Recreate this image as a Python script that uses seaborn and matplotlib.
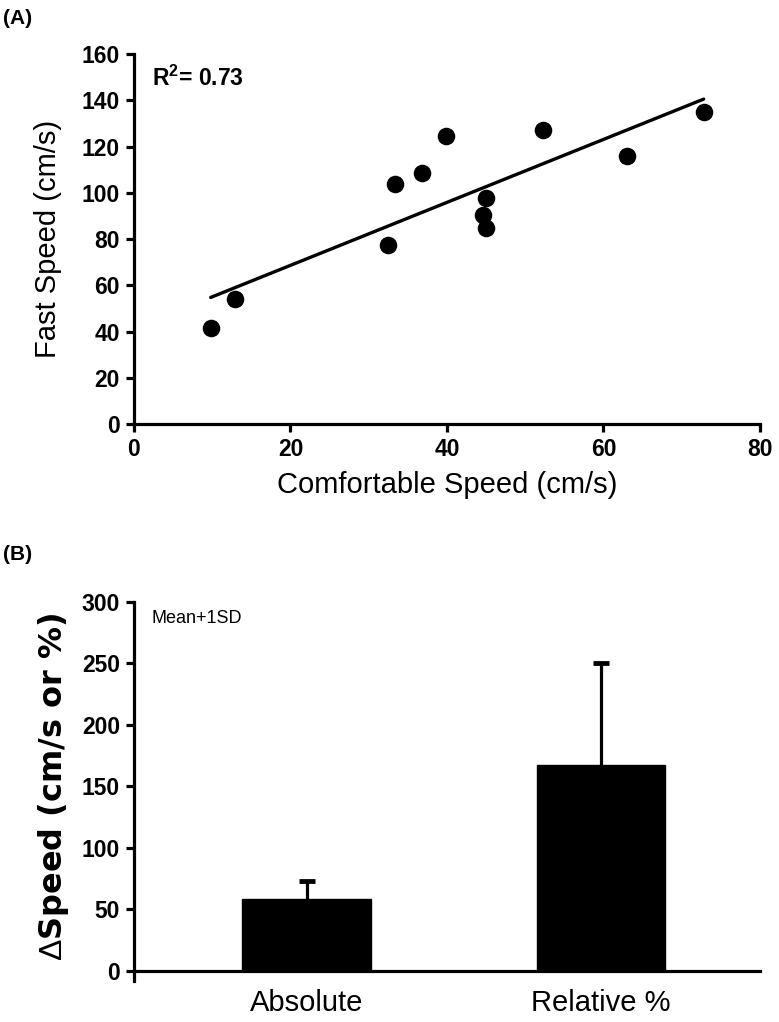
import numpy as np
import pandas as pd
import matplotlib
matplotlib.use("Agg")
import matplotlib.pyplot as plt
import seaborn as sns

# ---- data ----
comfortable_speed = [9.8, 12.9, 32.4, 33.4, 36.8, 39.9, 45.0, 44.6, 45.0, 52.3, 63.0, 72.8]
fast_speed = [41.4, 54.3, 77.3, 104.0, 108.6, 124.4, 98.0, 90.4, 84.7, 127.4, 116.1, 135.0]
r2_text = "R$^\\mathbf{2}$= 0.73"

bar_categories = ["Absolute", "Relative %"]
bar_means = [58.0, 167.3]
bar_sd = [14.8, 82.8]

x_ticks_a = [0, 20, 40, 60, 80]
y_ticks_a = [0, 20, 40, 60, 80, 100, 120, 140, 160]
y_ticks_b = [0, 50, 100, 150, 200, 250, 300]

sns.set_theme(style="ticks")
plt.rcParams['font.family'] = ['Liberation Sans', 'DejaVu Sans']
plt.rcParams['mathtext.fontset'] = 'custom'
plt.rcParams['mathtext.rm'] = 'Liberation Sans'
plt.rcParams['mathtext.bf'] = 'Liberation Sans:bold'
for k in ("text.color", "axes.labelcolor", "xtick.color", "ytick.color", "axes.edgecolor"):
    plt.rcParams[k] = "black"

fig = plt.figure(figsize=(7.79, 10.22), dpi=100)
axA = fig.add_axes([0.172, 0.585, 0.8036, 0.362])
axB = fig.add_axes([0.172, 0.0502, 0.8036, 0.3608])

LW = 2.3
TICKFS = 16.5
LABFS = 21

# ---- panel A ----
dfA = pd.DataFrame({"Comfortable": comfortable_speed, "Fast": fast_speed})
sns.regplot(data=dfA, x="Comfortable", y="Fast", ax=axA, ci=None, color="black",
            scatter_kws={"s": 160, "edgecolor": "black", "linewidths": 0, "alpha": 1},
            line_kws={"linewidth": 2.4, "color": "black"})
axA.set_xlim(0, 80)
axA.set_ylim(0, 160)
axA.set_xticks(x_ticks_a)
axA.set_yticks(y_ticks_a)
axA.set_xlabel("Comfortable Speed (cm/s)", fontsize=LABFS, labelpad=7)
axA.set_ylabel("Fast Speed (cm/s)", fontsize=LABFS, labelpad=14)
axA.text(0.028, 0.935, r2_text, transform=axA.transAxes, fontsize=16.5,
         fontweight="bold", va="center", ha="left")

for ax in (axA, axB):
    sns.despine(ax=ax)
    for s in ("left", "bottom"):
        ax.spines[s].set_linewidth(LW)
        ax.spines[s].set_color("black")
    ax.tick_params(axis="both", direction="out", length=6, width=LW, color="black",
                   labelsize=TICKFS, pad=4)

for lab in axA.get_xticklabels() + axA.get_yticklabels():
    lab.set_fontweight("bold")

# ---- panel B ----
dfB = pd.DataFrame({"cat": bar_categories, "mean": bar_means})
sns.barplot(data=dfB, x="cat", y="mean", ax=axB, color="black", width=0.435,
            edgecolor="black", saturation=1, errorbar=None)
_, caps, _ = axB.errorbar(x=[0, 1], y=bar_means, yerr=[[0, 0], bar_sd], fmt="none",
                          ecolor="black", elinewidth=LW, capsize=6, capthick=LW * 1.5)
if len(caps) == 2:
    caps[0].set_visible(False)
axB.set_xlim(-0.586, 1.54)
axB.set_ylim(0, 300)
axB.set_yticks(y_ticks_b)
axB.set_xticks([0, 1])
axB.set_xticklabels(bar_categories, fontsize=LABFS)
axB.tick_params(axis="x", length=0, pad=13)
axB.spines["left"].set_bounds(-8, 300)
axB.set_xlabel("")
axB.set_ylabel("$\\Delta$Speed (cm/s or %)", fontsize=23, fontweight="bold",
               family=["DejaVu Sans"], labelpad=8)
axB.text(0.028, 0.955, "Mean+1SD", transform=axB.transAxes, fontsize=13,
         va="center", ha="left")

for lab in axB.get_yticklabels():
    lab.set_fontweight("bold")

fig.text(0.004, 0.982, "(A)", fontsize=15, fontweight="bold", va="center", ha="left")
fig.text(0.004, 0.457, "(B)", fontsize=15, fontweight="bold", va="center", ha="left")

fig.savefig("out.png", dpi=100, facecolor="white")
